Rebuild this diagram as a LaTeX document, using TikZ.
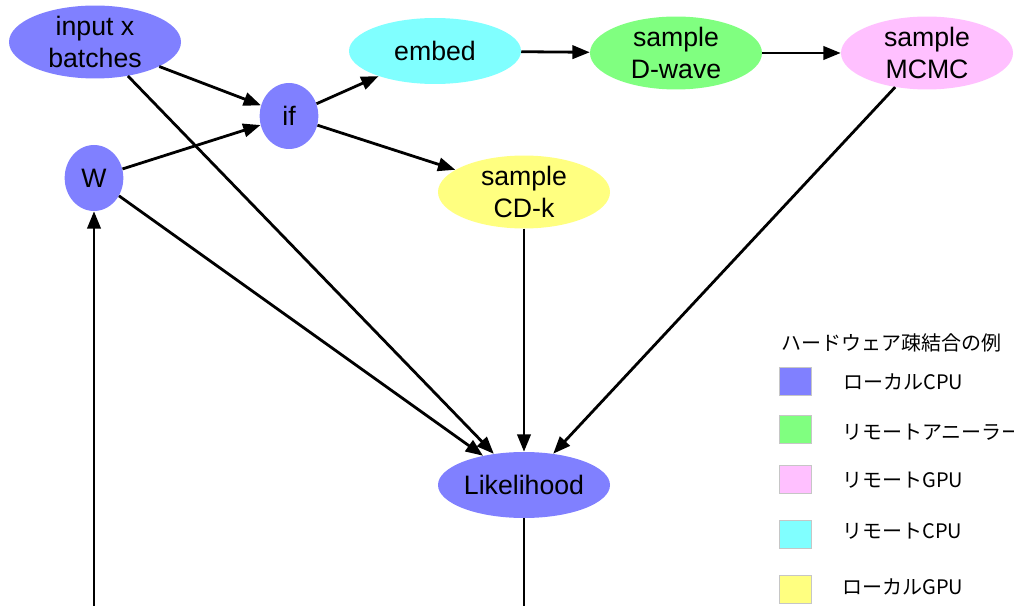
\documentclass[tikz,border=0pt]{standalone}
\usepackage{fontspec}
\setmainfont{Liberation Sans}
\newfontfamily\cjk{Noto Sans CJK JP}
\usetikzlibrary{shapes.geometric,arrows.meta}
\definecolor{cblue}{HTML}{8080FF}
\definecolor{ccyan}{HTML}{80FFFF}
\definecolor{cgreen}{HTML}{80FF80}
\definecolor{cpink}{HTML}{FFC0FF}
\definecolor{cyellow}{HTML}{FFFF80}
\tikzset{
  nd/.style={ellipse, inner sep=0pt, minimum width=129pt, minimum height=49.5pt,
    align=center, font=\fontsize{20}{24}\selectfont},
  sm/.style={nd, minimum width=44pt},
  edge/.style={line width=2.1pt, -{Triangle[length=13pt,width=10pt]}},
  plain/.style={line width=2.1pt},
  legbox/.style={draw=gray!45, line width=0.6pt, minimum width=24pt, minimum height=21pt, inner sep=0pt},
  legtxt/.style={anchor=west, inner sep=0pt, font=\cjk\fontsize{15}{18}\selectfont},
}
\begin{document}
\begin{tikzpicture}[x=0.75pt,y=-0.75pt]
\useasboundingbox (0,0) rectangle (1014,606);
\node[nd, fill=cblue] (inp) at (95,42) {input x\\batches};
\node[sm, fill=cblue] (W) at (94,178) {W};
\node[sm, fill=cblue] (if) at (289,116) {if};
\node[nd, fill=ccyan] (emb) at (435,51) {embed};
\node[nd, fill=cgreen] (dw) at (676,53) {sample\\D-wave};
\node[nd, fill=cpink] (mc) at (927,53) {sample\\MCMC};
\node[nd, fill=cyellow] (cd) at (524,192) {sample\\CD-k};
\node[nd, fill=cblue] (lik) at (524,485) {Likelihood};
\coordinate (bl) at (94,606);
\coordinate (br) at (524,606);

\draw[edge] (inp) -- (if);
\draw[edge] (W) -- (if);
\draw[edge] (if) -- (emb);
\draw[edge] (if) -- (cd);
\draw[edge] (emb) -- (dw);
\draw[edge] (dw) -- (mc);
\draw[edge] (inp) -- (lik);
\draw[edge] (W) -- (lik);
\draw[edge] (cd) -- (lik);
\draw[edge] (mc) -- (lik);
\draw[plain] (lik) -- (br);
\draw[edge] (bl) -- (W);

\node[legtxt] (lt) at (781,343) {ハードウェア疎結合の例};
\node[legbox, fill=cblue] (s1) at (795,381) {};
\node[legbox, fill=cgreen] (s2) at (795,429.5) {};
\node[legbox, fill=cpink] (s3) at (795,479.5) {};
\node[legbox, fill=ccyan] (s4) at (795,534.5) {};
\node[legbox, fill=cyellow] (s5) at (795,589) {};
\node[legtxt] (t1) at (843,382) {ローカルCPU};
\node[legtxt] (t2) at (842,432) {リモートアニーラー};
\node[legtxt] (t3) at (842,480) {リモートGPU};
\node[legtxt] (t4) at (842,531) {リモートCPU};
\node[legtxt] (t5) at (842,587) {ローカルGPU};
\end{tikzpicture}
\end{document}
